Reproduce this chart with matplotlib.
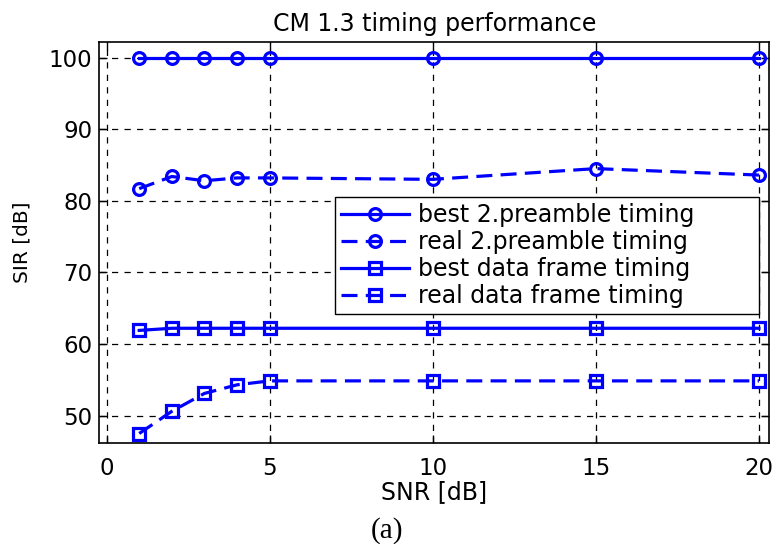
import matplotlib
matplotlib.use("Agg")
import matplotlib.pyplot as plt

snr = [1, 2, 3, 4, 5, 10, 15, 20]
best_pre = [100, 100, 100, 100, 100, 100, 100, 100]
real_pre = [81.7, 83.4, 82.8, 83.2, 83.2, 83.0, 84.5, 83.6]
best_data = [61.9, 62.2, 62.2, 62.2, 62.2, 62.2, 62.2, 62.2]
real_data = [47.5, 50.6, 53.1, 54.3, 54.85, 54.85, 54.85, 54.85]
labels = ["best 2.preamble timing", "real 2.preamble timing",
          "best data frame timing", "real data frame timing"]
xticks = [0, 5, 10, 15, 20]
yticks = [50, 60, 70, 80, 90, 100]

plt.rcParams['font.family'] = ['DejaVu Sans']
fig = plt.figure(figsize=(7.74, 5.44), dpi=100)
ax = fig.add_axes([0.128, 0.186, 0.866, 0.737])

blue = '#0000ff'
common = dict(color=blue, lw=2.3, mfc='none', mec=blue, mew=2.3)
dash = (0, (5, 2.6))
ax.plot(snr, best_pre, '-', marker='o', ms=8.5, label=labels[0], **common)
ax.plot(snr, real_pre, linestyle=dash, marker='o', ms=8.5, label=labels[1], **common)
ax.plot(snr, best_data, '-', marker='s', ms=8.5, label=labels[2], **common)
ax.plot(snr, real_data, linestyle=dash, marker='s', ms=8.5, label=labels[3], **common)

ax.set_xlim(-0.23, 20.32)
ax.set_ylim(46.2, 102.2)
ax.set_xticks(xticks)
ax.set_yticks(yticks)
ax.tick_params(direction='in', top=True, right=True, labelsize=16.5, length=6, width=1)
ax.tick_params(axis='x', pad=10)
ax.tick_params(axis='y', pad=5)
ax.grid(True, color='black', linestyle=(0, (5, 5)), linewidth=0.9)
for s in ax.spines.values():
    s.set_linewidth(1.2)

ax.set_title("CM 1.3 timing performance", fontsize=17, pad=7.5)
ax.set_xlabel("SNR [dB]", fontsize=17, labelpad=0)
ax.set_ylabel("SIR [dB]", fontsize=14.5, labelpad=12)

leg = ax.legend(loc='upper left', bbox_to_anchor=(0.352, 0.0, 0.633, 0.612),
                mode='expand', fontsize=17,
                fancybox=False, framealpha=1, edgecolor='black',
                borderpad=0.25, labelspacing=0.12, handlelength=2.9,
                handletextpad=0.35, borderaxespad=0)
leg.get_frame().set_linewidth(1.0)

fig.text(0.5, 0.024, "(a)", ha='center', va='center', fontsize=21,
         family=['Liberation Serif', 'DejaVu Serif'])

fig.savefig("out.png", dpi=100)
